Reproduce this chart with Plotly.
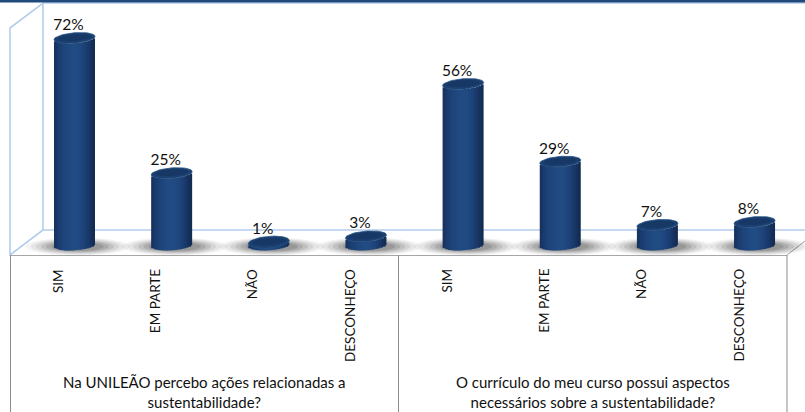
import numpy as np
import plotly.graph_objects as go

categories = ["SIM", "EM PARTE", "NÃO", "DESCONHEÇO"] * 2
values = [72, 25, 1, 3, 56, 29, 7, 8]
group_labels = ["Na UNILEÃO percebo ações relacionadas a<br>sustentabilidade?",
                "O currículo do meu curso possui aspectos<br>necessários sobre a sustentabilidade?"]
strip_colors = ["#17335f", "#193a6b", "#1b3f74", "#1d4379", "#1e467c", "#1f487f", "#204a81", "#214b83",
                "#214b83", "#204a81", "#1f477e", "#1d437a", "#1b3e72", "#193868", "#16315c", "#142c54"]

W, H = 805, 412
STEP = 97.15          # px per category
X0 = 74.5             # px of the first category
PX = 2.875            # px per percentage point
Y0 = 245              # px of zero
HALF_W = 20.5
HALF_H = 5.2
TILT = 1.6            # rise in px across half width

xpos = list(range(len(values)))
dx = HALF_W / STEP
dy = 1 / PX


def ellipse(cx, cy, a=HALF_W, b=HALF_H, tilt=TILT, n=60):
    t = np.linspace(0, 2 * np.pi, n)
    ex = a * np.cos(t)
    ey = b * np.sin(t) + tilt * np.cos(t) * (a / HALF_W)
    return cx + ex / STEP, cy + ey / PX


fig = go.Figure()

# cylinder bodies: vertical strips of bars
n = len(strip_colors)
width = 2 * dx / n
overlap = 1.5 / STEP
for j, col in enumerate(strip_colors):
    u = (j + 0.5) / n * 2 - 1
    offs = (-HALF_H * np.sqrt(max(1 - u * u, 0)) + TILT * u) * dy
    w = width + (overlap if j < n - 1 else 0)
    fig.add_trace(go.Bar(x=xpos, y=values, base=[offs] * len(values),
                         width=w, offset=-dx + j * width,
                         marker=dict(color=col, line=dict(width=0)), hoverinfo="skip", showlegend=False))

# cylinder tops
for i, v in zip(xpos, values):
    ex, ey = ellipse(i, v, b=HALF_H + (0.6 if v < 2 else 0))
    fig.add_trace(go.Scatter(x=ex, y=ey, mode="lines", fill="toself", line=dict(color="#24507f", width=0.8),
                             fillcolor="#1a3f70", hoverinfo="skip", showlegend=False))
    ex, ey = ellipse(i, v + 0.5 * dy, a=HALF_W * 0.8, b=HALF_H * 0.65, tilt=TILT * 0.8)
    fig.add_trace(go.Scatter(x=ex, y=ey, mode="lines", fill="toself", line=dict(width=0),
                             fillcolor="#173865", hoverinfo="skip", showlegend=False))

# value labels
fig.add_trace(go.Scatter(x=[i - 6 / STEP for i in xpos], y=[v + 11.8 * dy for v in values],
                         mode="text", text=[f"{v}%" for v in values], textposition="middle center",
                         textfont=dict(family="Lato", size=15.5, color="#111111"),
                         hoverinfo="skip", showlegend=False))


def px(x):
    return x / W


def py(y):
    return 1 - y / H


wall = "#b4cdec"
frame = "#a6a6a6"
P = dict(xref="paper", yref="paper")
shapes = [
    dict(type="rect", x0=px(0), x1=px(805), y0=py(0), y1=py(2.5), fillcolor="#1f4a7a", line=dict(width=0), **P),
    dict(type="path", path=f"M {px(10)} {py(255)} L {px(10)} {py(28)} L {px(43)} {py(3)} L {px(43)} {py(230)} Z",
         line=dict(color=wall, width=1.6), layer="below", **P),
    dict(type="line", x0=px(43), x1=px(805), y0=py(3), y1=py(3), line=dict(color=wall, width=1.6), layer="below", **P),
    dict(type="line", x0=px(43), x1=px(805), y0=py(230), y1=py(230), line=dict(color=wall, width=1.6), layer="below", **P),
    dict(type="line", x0=px(787), x1=px(805), y0=py(255), y1=py(241), line=dict(color=frame, width=1), layer="below", **P),
    dict(type="line", x0=px(10), x1=px(787), y0=py(255.5), y1=py(255.5), line=dict(color=frame, width=1.2), layer="below", **P),
    dict(type="line", x0=px(10.5), x1=px(10.5), y0=py(255), y1=py(412), line=dict(color="#8c8c8c", width=1), layer="below", **P),
    dict(type="line", x0=px(398.5), x1=px(398.5), y0=py(255), y1=py(412), line=dict(color="#8c8c8c", width=1), layer="below", **P),
    dict(type="line", x0=px(787), x1=px(787), y0=py(255), y1=py(412), line=dict(color="#8c8c8c", width=1), layer="below", **P),
]

# soft floor shadows, kept below the bars
for i in xpos:
    for scale, op in [(1.0, 0.05), (0.9, 0.07), (0.8, 0.09), (0.7, 0.11), (0.6, 0.13), (0.5, 0.15)]:
        ex, ey = ellipse(i + 3 / STEP, -1.5 / PX, a=52 * scale, b=9 * scale, tilt=0)
        path = "M " + " L ".join(f"{a:.4f} {b:.4f}" for a, b in zip(ex, ey)) + " Z"
        shapes.append(dict(type="path", path=path, xref="x", yref="y", layer="below",
                           fillcolor=f"rgba(40,40,40,{op})", line=dict(width=0)))

annotations = []
for i, c in zip(xpos, categories):
    annotations.append(dict(x=i - 16.5 / STEP, y=py(267), xref="x", yref="paper", text=c, showarrow=False, textangle=-90,
                            xanchor="center", yanchor="top", font=dict(family="Lato", size=13.5, color="#111111")))
for cx, label in zip([204, 592.5], group_labels):
    annotations.append(dict(x=px(cx), y=py(392), xref="paper", yref="paper", text=label, showarrow=False,
                            xanchor="center", yanchor="middle", align="center",
                            font=dict(family="Lato", size=15, color="#111111")))

fig.update_layout(
    width=W, height=H, margin=dict(l=0, r=0, t=0, b=0), paper_bgcolor="white", plot_bgcolor="white",
    barmode="overlay", showlegend=False, shapes=shapes, annotations=annotations,
    xaxis=dict(range=[-X0 / STEP, (W - X0) / STEP], visible=False, fixedrange=True),
    yaxis=dict(range=[-(H - Y0) / PX, Y0 / PX], visible=False, fixedrange=True),
)
fig.write_html("out.html", config=dict(displayModeBar=False),
               post_script="document.body.style.margin='0';document.body.style.overflow='hidden';")
